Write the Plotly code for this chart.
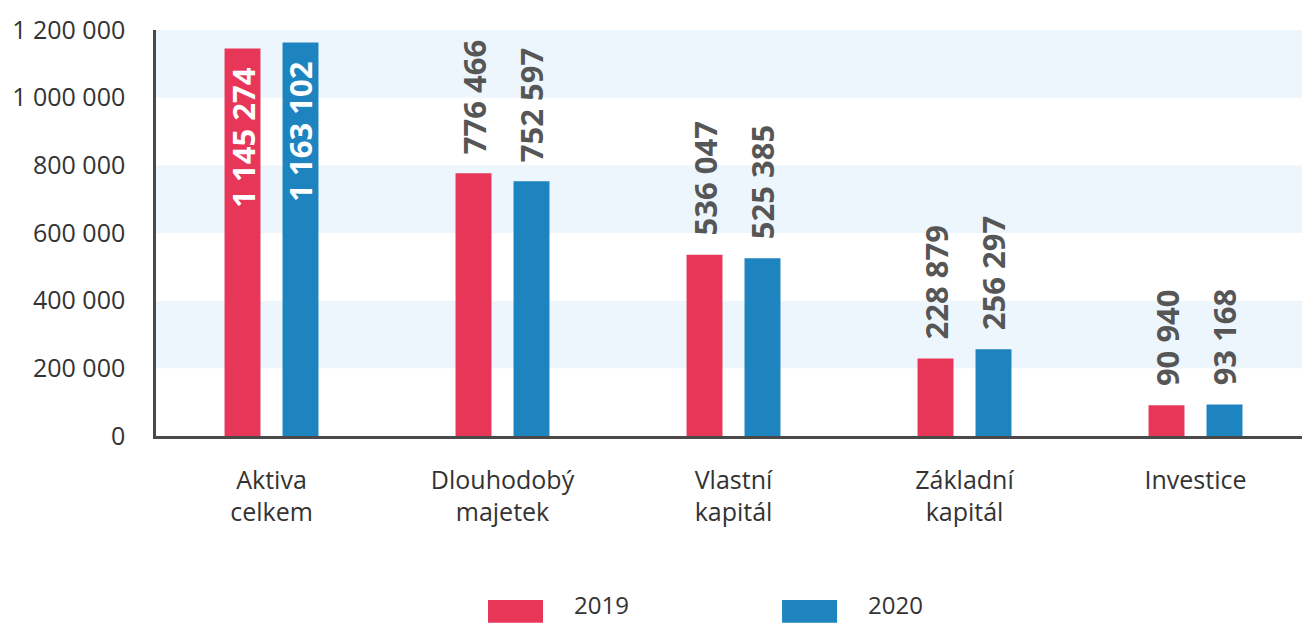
import plotly.graph_objects as go

# data
categories = ["Aktiva<br>celkem", "Dlouhodobý<br>majetek", "Vlastní<br>kapitál", "Základní<br>kapitál", "Investice"]
values_2019 = [1145274, 776466, 536047, 228879, 90940]
values_2020 = [1163102, 752597, 525385, 256297, 93168]
series_names = ["2019", "2020"]
y_ticks = [0, 200000, 400000, 600000, 800000, 1000000, 1200000]

RED = "#e73658"
BLUE = "#1d84bf"
LABEL = "#565656"
FONT = "Open Sans"


def fmt(v):
    # thousands separated by spaces, like the Czech original
    return f"{v:,}".replace(",", " ")


def bar_trace(name, values, color):
    inside = [v > 1000000 for v in values]
    texts = [fmt(v) + "\u00a0\u00a0" if ins else "\u00a0\u00a0" + fmt(v)
             for v, ins in zip(values, inside)]
    return go.Bar(
        x=categories, y=values, name=name,
        marker=dict(color=color, line=dict(width=0)),
        text=texts,
        textposition=["inside" if ins else "outside" for ins in inside],
        insidetextanchor="end",
        textangle=-90,
        constraintext="none",
        cliponaxis=False,
        insidetextfont=dict(family=FONT, size=31, color="white", weight="bold"),
        outsidetextfont=dict(family=FONT, size=31, color=LABEL, weight="bold"),
        showlegend=False,
        hoverinfo="skip",
    )


fig = go.Figure()
fig.add_trace(bar_trace(series_names[0], values_2019, RED))
fig.add_trace(bar_trace(series_names[1], values_2020, BLUE))

# alternating light bands
shapes = []
for lo in y_ticks[1::2]:
    shapes.append(dict(type="rect", xref="paper", yref="y", x0=0, x1=1, y0=lo, y1=lo + 200000,
                       fillcolor="#eef6fd", line=dict(width=0), layer="below"))

# hand-made legend with wide swatches under the chart
legend_items = [(series_names[0], RED, 0.2897, 0.3377), (series_names[1], BLUE, 0.5463, 0.5943)]
annotations = []
for name, color, x0, x1 in legend_items:
    shapes.append(dict(type="rect", xref="paper", yref="paper", x0=x0, x1=x1, y0=-0.46, y1=-0.404,
                       fillcolor=color, line=dict(width=0)))
    annotations.append(dict(xref="paper", yref="paper", x=x1 + 0.025, y=-0.416, text=name,
                            showarrow=False, xanchor="left", yanchor="middle",
                            font=dict(family=FONT, size=24, color="#333333")))

fig.update_layout(
    width=1302, height=623,
    margin=dict(l=156, r=0, t=30, b=187, autoexpand=False),
    paper_bgcolor="white", plot_bgcolor="white",
    barmode="group", bargap=0.498, bargroupgap=0.38,
    uniformtext=dict(minsize=31, mode="show"),
    shapes=shapes, annotations=annotations,
    font=dict(family=FONT, color="#333333"),
)
fig.update_xaxes(
    range=[-0.5, 4.461],
    showgrid=False, showline=True, linecolor="#4a4a4a", linewidth=2.5,
    ticks="", ticklabelstandoff=20, tickfont=dict(family=FONT, size=25, color="#333333"),
)
fig.update_yaxes(
    range=[0, 1200000], showgrid=False, zeroline=False,
    showline=True, linecolor="#4a4a4a", linewidth=2.5,
    tickvals=y_ticks, ticktext=[fmt(v) for v in y_ticks],
    ticks="", ticklabelstandoff=23, tickfont=dict(family=FONT, size=25, color="#333333"),
)

# page has a default 8px body margin; drop it so the chart sits at the corner
fig.write_html("out.html", config={"displayModeBar": False},
               post_script="document.body.style.margin='0';")
